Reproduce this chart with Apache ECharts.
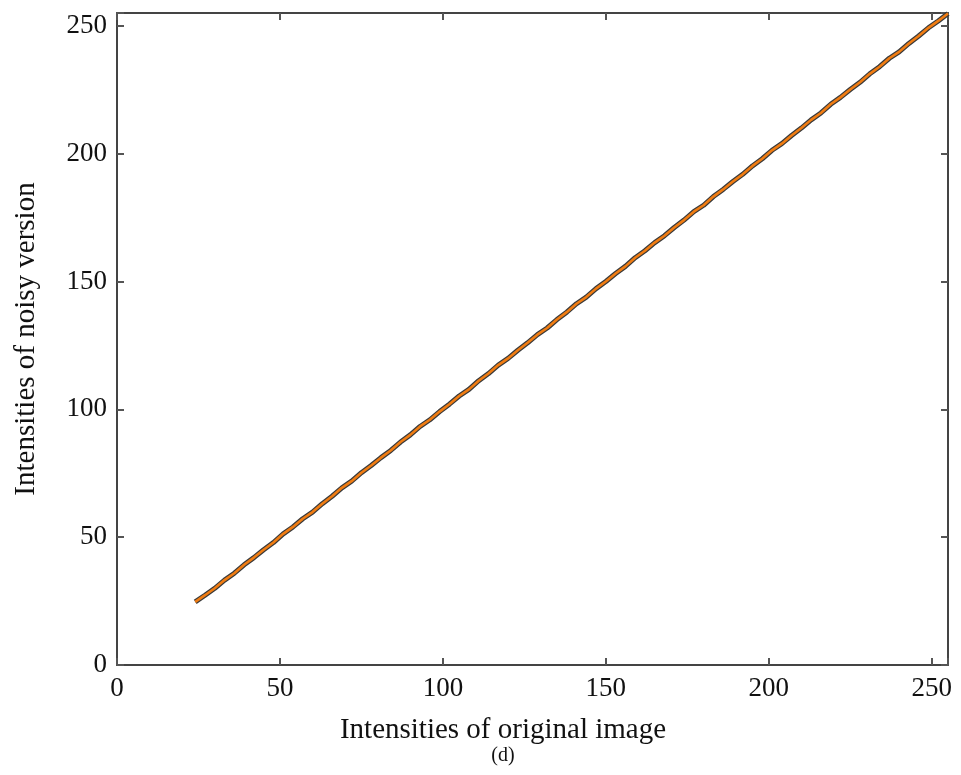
<!DOCTYPE html>
<html>
<head>
<meta charset="utf-8">
<script src="https://cdn.jsdelivr.net/npm/echarts@6/dist/echarts.min.js"></script>
<style>
html,body{margin:0;padding:0;background:#fff;}
#chart{width:961px;height:775px;}
</style>
</head>
<body>
<div id="chart"></div>
<script>
var originalIntensity = [24,27,30,33,36,39,42,45,48,51,54,57,60,63,66,69,72,75,78,81,84,87,90,93,96,99,102,105,108,111,114,117,120,123,126,129,132,135,138,141,144,147,150,153,156,159,162,165,168,171,174,177,180,183,186,189,192,195,198,201,204,207,210,213,216,219,222,225,228,231,234,237,240,243,246,249,252,255];
var noisyIntensity = [24.7,27.3,30.0,33.2,35.9,39.2,42.0,45.1,47.9,51.3,54.0,57.2,59.8,63.1,66.0,69.3,71.9,75.2,78.0,81.1,83.9,87.2,90.0,93.3,95.9,99.1,102.0,105.2,107.8,111.2,114.0,117.3,119.9,123.1,126.0,129.2,131.8,135.1,138.0,141.3,143.9,147.2,150.0,153.1,155.9,159.3,162.0,165.2,167.9,171.1,174.0,177.3,179.8,183.2,186.0,189.1,191.9,195.2,198.0,201.3,203.9,207.1,210.0,213.2,215.9,219.3,222.0,225.1,227.9,231.2,234.0,237.3,239.8,243.1,246.0,249.2,251.9,254.8];
var tickValues = [0,50,100,150,200,250];
var xTitle = 'Intensities of original image';
var yTitle = 'Intensities of noisy version';
var caption = '(d)';

var pts = originalIntensity.map(function(x,i){return [x, noisyIntensity[i]];});
var font = '"Liberation Serif","Times New Roman",serif';
var axisLine = {show:true, onZero:false, lineStyle:{color:'#444', width:2}};
var ticks = {show:true, inside:true, length:7, lineStyle:{color:'#555', width:2}};
var lbl = {color:'#111', fontFamily:font, fontSize:27,
  formatter:function(v){return tickValues.indexOf(v)>=0?String(v):'';}};

var chart = echarts.init(document.getElementById('chart'));
chart.setOption({
  animation:false,
  backgroundColor:'#fff',
  grid:{left:117, right:13, top:13, bottom:110},
  xAxis:[{
    type:'value', min:0, max:255, interval:50,
    axisLine:axisLine, axisTick:ticks, splitLine:{show:false},
    axisLabel:Object.assign({margin:10}, lbl)
  },{
    type:'value', position:'top', min:0, max:255, interval:50,
    axisLine:axisLine, axisTick:ticks, axisLabel:{show:false}, splitLine:{show:false}
  }],
  yAxis:[{
    type:'value', min:0, max:255, interval:50,
    axisLine:axisLine, axisTick:ticks, splitLine:{show:false},
    name:yTitle, nameLocation:'middle', nameGap:76,
    nameTextStyle:{color:'#111', fontFamily:font, fontSize:29},
    axisLabel:Object.assign({margin:10}, lbl)
  },{
    type:'value', position:'right', min:0, max:255, interval:50,
    axisLine:axisLine, axisTick:ticks, axisLabel:{show:false}, splitLine:{show:false}
  }],
  graphic:[
    {type:'text', x:503, y:730, style:{text:xTitle, fill:'#111', font:'29px '+font, textAlign:'center', textVerticalAlign:'middle'}},
    {type:'text', x:503, y:756, style:{text:caption, fill:'#111', font:'20px '+font, textAlign:'center', textVerticalAlign:'middle'}}
  ],
  series:[
    {type:'line', xAxisIndex:0, yAxisIndex:0, data:pts, showSymbol:false, lineStyle:{color:'#3a3a3a', width:5}, z:2},
    {type:'line', xAxisIndex:0, yAxisIndex:0, data:pts, showSymbol:false, lineStyle:{color:'#F07C12', width:2.6}, z:3}
  ]
});
</script>
</body>
</html>
